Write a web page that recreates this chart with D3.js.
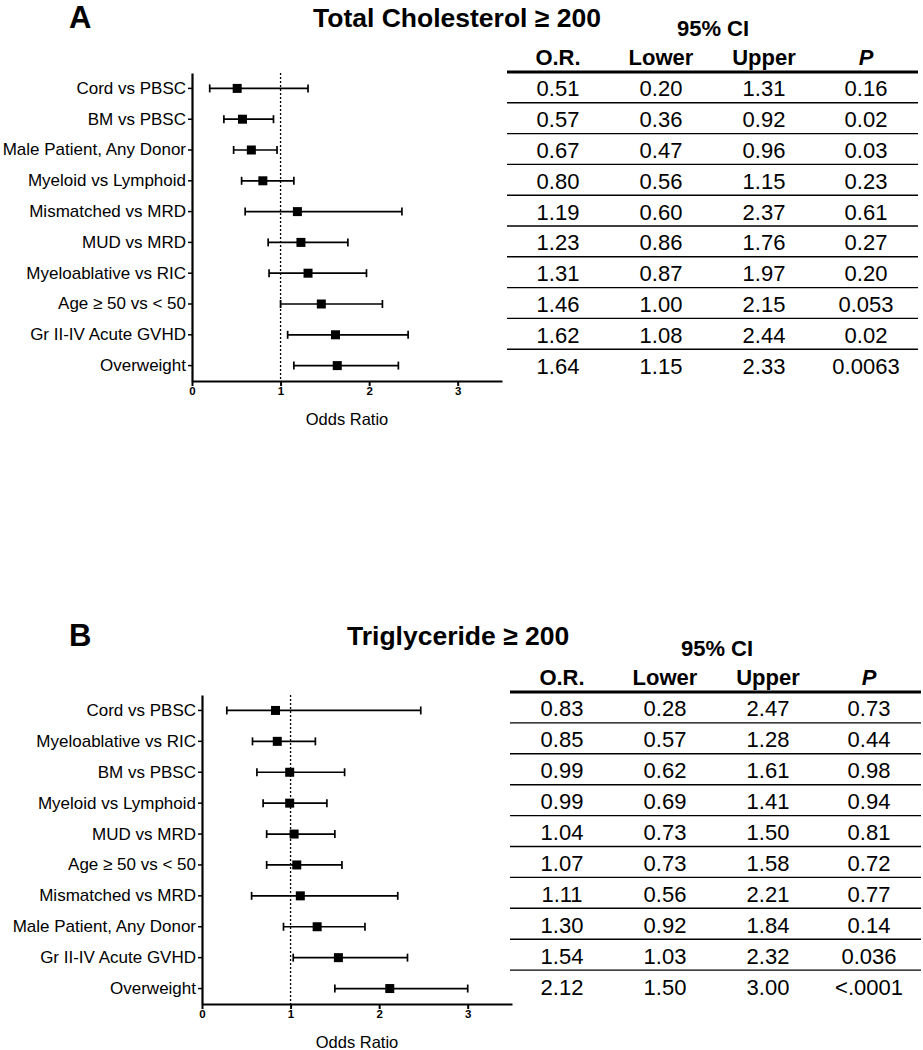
<!DOCTYPE html>
<html>
<head>
<meta charset="utf-8">
<script src="https://cdn.jsdelivr.net/npm/d3@7"></script>
<style>
  html, body { margin: 0; padding: 0; background: #fff; }
  svg { display: block; font-family: "Liberation Sans", Arial, Helvetica, sans-serif; }
</style>
</head>
<body>
<svg id="chart" width="923" height="1050"></svg>
<script>
// ---------- Data ----------
const titleA = "Total Cholesterol \u2265 200";
const labelsA = ["Cord vs PBSC", "BM vs PBSC", "Male Patient, Any Donor", "Myeloid vs Lymphoid",
  "Mismatched vs MRD", "MUD vs MRD", "Myeloablative vs RIC", "Age \u2265 50 vs < 50",
  "Gr II-IV Acute GVHD", "Overweight"];
const orA    = [0.51, 0.57, 0.67, 0.80, 1.19, 1.23, 1.31, 1.46, 1.62, 1.64];
const lowerA = [0.20, 0.36, 0.47, 0.56, 0.60, 0.86, 0.87, 1.00, 1.08, 1.15];
const upperA = [1.31, 0.92, 0.96, 1.15, 2.37, 1.76, 1.97, 2.15, 2.44, 2.33];
const pA     = ["0.16", "0.02", "0.03", "0.23", "0.61", "0.27", "0.20", "0.053", "0.02", "0.0063"];

const titleB = "Triglyceride \u2265 200";
const labelsB = ["Cord vs PBSC", "Myeloablative vs RIC", "BM vs PBSC", "Myeloid vs Lymphoid",
  "MUD vs MRD", "Age \u2265 50 vs < 50", "Mismatched vs MRD", "Male Patient, Any Donor",
  "Gr II-IV Acute GVHD", "Overweight"];
const orB    = [0.83, 0.85, 0.99, 0.99, 1.04, 1.07, 1.11, 1.30, 1.54, 2.12];
const lowerB = [0.28, 0.57, 0.62, 0.69, 0.73, 0.73, 0.56, 0.92, 1.03, 1.50];
const upperB = [2.47, 1.28, 1.61, 1.41, 1.50, 1.58, 2.21, 1.84, 2.32, 3.00];
const pB     = ["0.73", "0.44", "0.98", "0.94", "0.81", "0.72", "0.77", "0.14", "0.036", "<.0001"];

const xTicks = [0, 1, 2, 3];
const xDomain = [0, 3.5];
const refLine = 1;
const tableHeaders = ["O.R.", "Lower", "Upper", "P"];
const ciHeader = "95% CI";
const xLabel = "Odds Ratio";

// ---------- Drawing ----------
const svg = d3.select("#chart");
const fmt = d3.format(".2f");

function panel(cfg) {
  const g = svg.append("g");
  const x = d3.scaleLinear().domain(xDomain).range([cfg.x0, cfg.x0 + 310]);
  const y = d3.scaleBand().domain(cfg.labels).range([cfg.yTop, cfg.yBottom]);
  const yc = d => y(d) + y.bandwidth() / 2;

  // letter + title
  g.append("text").attr("x", 69).attr("y", cfg.titleY + 1)
    .attr("font-size", 31).attr("font-weight", "bold").text(cfg.letter);
  g.append("text").attr("x", cfg.titleX).attr("y", cfg.titleY)
    .attr("font-size", 26.5).attr("font-weight", "bold").text(cfg.title);

  // reference dotted line
  g.append("line")
    .attr("x1", x(refLine)).attr("x2", x(refLine))
    .attr("y1", cfg.yTop).attr("y2", cfg.yBottom)
    .attr("stroke", "#000").attr("stroke-width", 1.3).attr("stroke-dasharray", "2,2");

  // x axis
  const xa = g.append("g").attr("transform", `translate(0,${cfg.yBottom})`)
    .call(d3.axisBottom(x).tickValues(xTicks).tickFormat(d3.format("d")).tickSize(5).tickSizeOuter(0));
  xa.select(".domain").attr("stroke-width", 2.2);
  xa.selectAll(".tick line").attr("stroke-width", 2);
  xa.selectAll(".tick text").attr("font-size", 11.5).attr("font-weight", "bold")
    .attr("font-family", "\"Liberation Sans\", Arial, sans-serif").attr("dy", "0.65em").attr("y", 7);

  g.append("text")
    .attr("x", (x(0) + x(3.5)) / 2).attr("y", cfg.yBottom + 44)
    .attr("text-anchor", "middle").attr("font-size", 16.5).text(xLabel);

  // y axis
  const ya = g.append("g").attr("transform", `translate(${cfg.x0},0)`)
    .call(d3.axisLeft(y).tickSize(4).tickSizeOuter(0).tickPadding(2));
  ya.select(".domain").attr("stroke-width", 2.2);
  ya.selectAll(".tick line").attr("stroke-width", 1.5);
  ya.selectAll(".tick text").attr("font-size", 17)
    .attr("font-family", "\"Liberation Sans\", Arial, sans-serif").attr("fill", "#000");

  // error bars
  const rows = cfg.labels.map((l, i) => ({ l, or: cfg.or[i], lo: cfg.lower[i], up: cfg.upper[i] }));
  const eb = g.append("g").selectAll("g").data(rows).join("g");
  eb.append("line").attr("x1", d => x(d.lo)).attr("x2", d => x(d.up))
    .attr("y1", d => yc(d.l)).attr("y2", d => yc(d.l)).attr("stroke", "#000").attr("stroke-width", 1.7);
  eb.append("line").attr("x1", d => x(d.lo)).attr("x2", d => x(d.lo))
    .attr("y1", d => yc(d.l) - 4).attr("y2", d => yc(d.l) + 4).attr("stroke", "#000").attr("stroke-width", 1.7);
  eb.append("line").attr("x1", d => x(d.up)).attr("x2", d => x(d.up))
    .attr("y1", d => yc(d.l) - 4).attr("y2", d => yc(d.l) + 4).attr("stroke", "#000").attr("stroke-width", 1.7);
  eb.append("rect").attr("x", d => x(d.or) - 4.5).attr("y", d => yc(d.l) - 4.5)
    .attr("width", 9).attr("height", 9).attr("fill", "#000");

  // table
  const ty = d3.scaleBand().domain(cfg.labels).range([cfg.tTop, cfg.tTop + (cfg.yBottom - cfg.yTop)]);
  const cols = cfg.cols;
  const t = g.append("g");
  t.append("text").attr("x", cfg.ciX).attr("y", cfg.tTop - 36).attr("text-anchor", "middle")
    .attr("font-size", 22).attr("font-weight", "bold").text(ciHeader);
  tableHeaders.forEach((h, j) => {
    t.append("text").attr("x", cols[j]).attr("y", cfg.tTop - 7).attr("text-anchor", "middle")
      .attr("font-size", 22).attr("font-weight", "bold")
      .attr("font-style", j === 3 ? "italic" : "normal").text(h);
  });
  t.append("line").attr("x1", cfg.tx0).attr("x2", cfg.tx1).attr("y1", cfg.tTop).attr("y2", cfg.tTop)
    .attr("stroke", "#000").attr("stroke-width", 3);
  const tr = t.selectAll("g.row").data(cfg.labels.map((l, i) => ({ l, i }))).join("g");
  tr.each(function(d) {
    const r = d3.select(this);
    const vals = [fmt(cfg.or[d.i]), fmt(cfg.lower[d.i]), fmt(cfg.upper[d.i]), cfg.p[d.i]];
    vals.forEach((v, j) => {
      r.append("text").attr("x", cols[j]).attr("y", ty(d.l) + ty.bandwidth() / 2 + 9)
        .attr("text-anchor", "middle").attr("font-size", 22).text(v);
    });
    if (d.i < cfg.labels.length - 1) {
      r.append("line").attr("x1", cfg.tx0).attr("x2", cfg.tx1)
        .attr("y1", ty(d.l) + ty.bandwidth()).attr("y2", ty(d.l) + ty.bandwidth())
        .attr("stroke", "#000").attr("stroke-width", 1.4);
    }
  });
}

panel({
  letter: "A", title: titleA, titleX: 313, titleY: 27,
  labels: labelsA, or: orA, lower: lowerA, upper: upperA, p: pA,
  x0: 192, yTop: 73, yBottom: 381,
  tTop: 72, tx0: 507, tx1: 918, cols: [558, 661, 764, 866], ciX: 713
});
panel({
  letter: "B", title: titleB, titleX: 347, titleY: 645,
  labels: labelsB, or: orB, lower: lowerB, upper: upperB, p: pB,
  x0: 202, yTop: 695, yBottom: 1004,
  tTop: 692, tx0: 510, tx1: 921, cols: [562, 665, 768, 869], ciX: 717
});
</script>
</body>
</html>
